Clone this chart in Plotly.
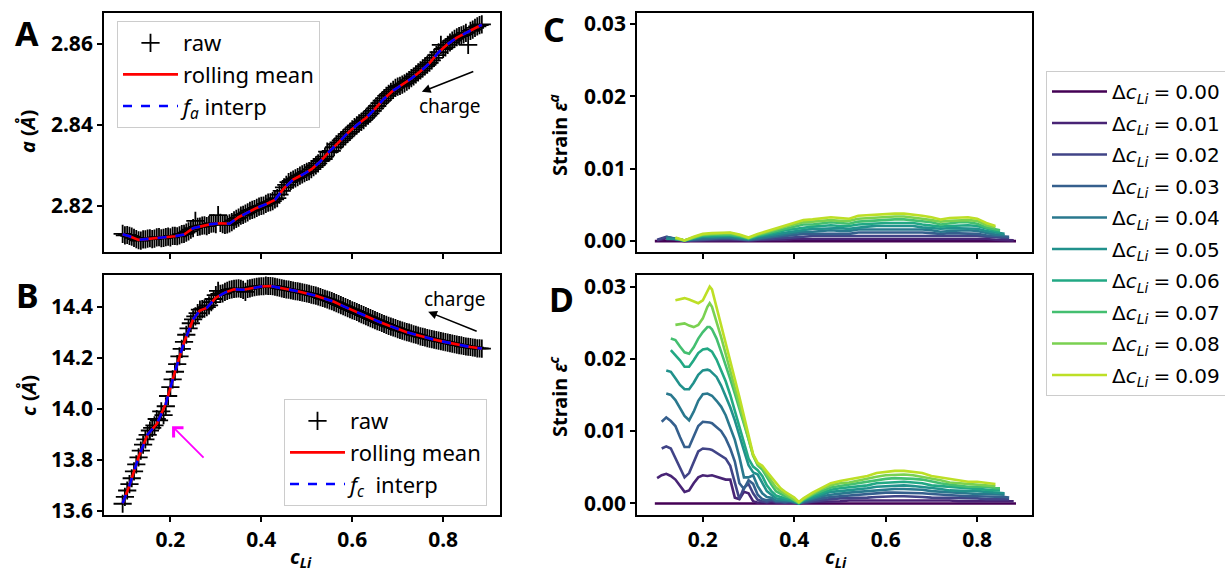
import plotly.graph_objects as go

# ---------------- panels A / B : lattice parameters ----------------
raw_cli = [0.095, 0.105, 0.115, 0.125, 0.135, 0.145, 0.155, 0.165, 0.175, 0.185,
           0.195, 0.205, 0.215, 0.225, 0.235, 0.245, 0.255, 0.265, 0.275, 0.285,
           0.295, 0.305, 0.315, 0.325, 0.335, 0.345, 0.355, 0.365, 0.375, 0.385,
           0.395, 0.405, 0.415, 0.425, 0.435, 0.445, 0.455, 0.465, 0.475, 0.485,
           0.495, 0.505, 0.515, 0.525, 0.535, 0.545, 0.555, 0.565, 0.575, 0.585,
           0.595, 0.605, 0.615, 0.625, 0.635, 0.645, 0.655, 0.665, 0.675, 0.685,
           0.695, 0.705, 0.715, 0.725, 0.735, 0.745, 0.755, 0.765, 0.775, 0.785,
           0.795, 0.805, 0.815, 0.825, 0.835, 0.845, 0.855, 0.865, 0.875, 0.885]

raw_a = [2.8131, 2.8128, 2.8124, 2.8118, 2.8114, 2.8117, 2.8120, 2.8119, 2.8123, 2.8121,
         2.8124, 2.8126, 2.8125, 2.8130, 2.8134, 2.8141, 2.8163, 2.8149, 2.8152, 2.8153,
         2.8157, 2.8177, 2.8155, 2.8154, 2.8160, 2.8168, 2.8176, 2.8181, 2.8188, 2.8192,
         2.8198, 2.8201, 2.8208, 2.8212, 2.8219, 2.8237, 2.8252, 2.8262, 2.8268, 2.8275,
         2.8281, 2.8286, 2.8296, 2.8305, 2.8316, 2.8334, 2.8336, 2.8352, 2.8362, 2.8372,
         2.8383, 2.8395, 2.8404, 2.8412, 2.8423, 2.8435, 2.8447, 2.8460, 2.8472, 2.8482,
         2.8492, 2.8497, 2.8503, 2.8511, 2.8520, 2.8530, 2.8540, 2.8549, 2.8560, 2.8573,
         2.8598, 2.8592, 2.8604, 2.8613, 2.8620, 2.8624, 2.8598, 2.8636, 2.8644, 2.8649]

raw_c = [13.628, 13.680, 13.728, 13.782, 13.836, 13.880, 13.915, 13.935, 13.955, 13.975,
         14.050, 14.115, 14.175, 14.235, 14.290, 14.335, 14.362, 14.388, 14.392, 14.405,
         14.430, 14.462, 14.452, 14.462, 14.468, 14.471, 14.470, 14.458, 14.472, 14.476,
         14.479, 14.480, 14.481, 14.480, 14.476, 14.472, 14.468, 14.465, 14.461, 14.458,
         14.454, 14.450, 14.445, 14.440, 14.434, 14.428, 14.422, 14.414, 14.406, 14.398,
         14.390, 14.383, 14.375, 14.367, 14.359, 14.351, 14.343, 14.336, 14.329, 14.322,
         14.316, 14.309, 14.303, 14.298, 14.292, 14.287, 14.282, 14.277, 14.273, 14.269,
         14.265, 14.261, 14.257, 14.253, 14.249, 14.246, 14.243, 14.240, 14.237, 14.236]

# second half of the raw measurements (interleaved compositions)
raw_cli2 = [0.100, 0.110, 0.120, 0.130, 0.140, 0.150, 0.160, 0.170, 0.180, 0.190,
            0.200, 0.210, 0.220, 0.230, 0.240, 0.250, 0.260, 0.270, 0.280, 0.290,
            0.300, 0.310, 0.320, 0.330, 0.340, 0.350, 0.360, 0.370, 0.380, 0.390,
            0.400, 0.410, 0.420, 0.430, 0.440, 0.450, 0.460, 0.470, 0.480, 0.490,
            0.500, 0.510, 0.520, 0.530, 0.540, 0.550, 0.560, 0.570, 0.580, 0.590,
            0.600, 0.610, 0.620, 0.630, 0.640, 0.650, 0.660, 0.670, 0.680, 0.690,
            0.700, 0.710, 0.720, 0.730, 0.740, 0.750, 0.760, 0.770, 0.780, 0.790,
            0.800, 0.810, 0.820, 0.830, 0.840, 0.850, 0.860, 0.870, 0.880]

raw_a2 = [2.8127, 2.8126, 2.8121, 2.8115, 2.8117, 2.8119, 2.8118, 2.8122, 2.8120, 2.8123,
          2.8122, 2.8126, 2.8127, 2.8131, 2.8137, 2.8145, 2.8148, 2.8151, 2.8150, 2.8156,
          2.8155, 2.8158, 2.8153, 2.8157, 2.8164, 2.8171, 2.8178, 2.8184, 2.8190, 2.8195,
          2.8200, 2.8205, 2.8209, 2.8216, 2.8228, 2.8246, 2.8259, 2.8265, 2.8271, 2.8278,
          2.8284, 2.8291, 2.8300, 2.8311, 2.8322, 2.8333, 2.8345, 2.8357, 2.8367, 2.8378,
          2.8389, 2.8399, 2.8408, 2.8418, 2.8429, 2.8441, 2.8454, 2.8466, 2.8477, 2.8487,
          2.8495, 2.8500, 2.8507, 2.8516, 2.8525, 2.8535, 2.8545, 2.8554, 2.8566, 2.8580,
          2.8588, 2.8598, 2.8609, 2.8617, 2.8622, 2.8628, 2.8633, 2.8640, 2.8647]

raw_c2 = [13.655, 13.705, 13.755, 13.810, 13.860, 13.898, 13.925, 13.960, 13.990, 14.010,
          14.085, 14.145, 14.205, 14.262, 14.315, 14.350, 14.375, 14.390, 14.398, 14.418,
          14.445, 14.450, 14.458, 14.466, 14.470, 14.472, 14.466, 14.470, 14.474, 14.478,
          14.480, 14.482, 14.481, 14.478, 14.474, 14.470, 14.467, 14.463, 14.460, 14.456,
          14.452, 14.447, 14.443, 14.437, 14.431, 14.425, 14.418, 14.410, 14.402, 14.394,
          14.386, 14.379, 14.371, 14.363, 14.355, 14.347, 14.340, 14.332, 14.325, 14.319,
          14.312, 14.306, 14.300, 14.295, 14.290, 14.284, 14.280, 14.275, 14.271, 14.267,
          14.263, 14.259, 14.255, 14.251, 14.248, 14.244, 14.242, 14.239, 14.237]

line_cli_a = [0.095, 0.11, 0.13, 0.15, 0.17, 0.19, 0.21, 0.23, 0.25, 0.27, 0.29, 0.31,
              0.33, 0.35, 0.37, 0.39, 0.41, 0.43, 0.45, 0.47, 0.49, 0.51, 0.53, 0.55,
              0.57, 0.59, 0.61, 0.63, 0.65, 0.67, 0.69, 0.71, 0.73, 0.75, 0.77, 0.79,
              0.81, 0.83, 0.85, 0.87, 0.885]
line_a = [2.8130, 2.8125, 2.8116, 2.8118, 2.8121, 2.8122, 2.8125, 2.8129, 2.8145, 2.8150,
          2.8155, 2.8157, 2.8156, 2.8172, 2.8184, 2.8195, 2.8204, 2.8215, 2.8244, 2.8265,
          2.8277, 2.8290, 2.8310, 2.8335, 2.8357, 2.8380, 2.8400, 2.8417, 2.8440, 2.8465,
          2.8485, 2.8499, 2.8515, 2.8533, 2.8553, 2.8580, 2.8600, 2.8616, 2.8627, 2.8640,
          2.8648]

line_cli_c = [0.095, 0.11, 0.13, 0.15, 0.17, 0.19, 0.21, 0.23, 0.25, 0.265, 0.28, 0.30,
              0.32, 0.34, 0.36, 0.38, 0.40, 0.42, 0.44, 0.46, 0.48, 0.50, 0.52, 0.54,
              0.56, 0.58, 0.60, 0.62, 0.64, 0.66, 0.68, 0.70, 0.72, 0.74, 0.76, 0.78,
              0.80, 0.82, 0.84, 0.86, 0.885]
line_c = [13.630, 13.700, 13.810, 13.900, 13.940, 14.020, 14.145, 14.260, 14.350, 14.385,
          14.395, 14.435, 14.455, 14.468, 14.466, 14.474, 14.479, 14.481, 14.475, 14.467,
          14.460, 14.452, 14.443, 14.431, 14.419, 14.402, 14.386, 14.371, 14.355, 14.340,
          14.326, 14.312, 14.300, 14.290, 14.280, 14.271, 14.263, 14.255, 14.248, 14.242,
          14.236]

# ---------------- panels C / D : strain ----------------
delta_labels = ["0.00", "0.01", "0.02", "0.03", "0.04", "0.05", "0.06", "0.07", "0.08", "0.09"]
viridis10 = ["#440154", "#482475", "#414487", "#355f8d", "#2a788e",
             "#21918c", "#22a884", "#44bf70", "#7ad151", "#bddf26"]

zero_cli = [0.095, 0.885]
zero_strain = [0.0, 0.0]

grid_a = [0.10, 0.12, 0.14, 0.16, 0.18, 0.20, 0.22, 0.24, 0.26, 0.28, 0.30, 0.32, 0.34,
          0.36, 0.38, 0.40, 0.42, 0.44, 0.46, 0.48, 0.50, 0.52, 0.54, 0.56, 0.58, 0.60,
          0.62, 0.64, 0.66, 0.68, 0.70, 0.72, 0.74, 0.76, 0.78, 0.80, 0.82, 0.84,
          0.85, 0.86, 0.87, 0.88]

eps_a_01 = [.0001, .0004, .0002, .0000, .0001, .0001, .0001, .0001, .0001, .0001, .0001,
            .0001, .0002, .0002, .0002, .0003, .0003, .0003, .0003, .0004, .0004, .0003,
            .0004, .0004, .0004, .0004, .0004, .0004, .0004, .0004, .0004, .0003, .0004,
            .0004, .0004, .0003, .0003, .0002, .0002, .0002, .0002, .0001]
eps_a_02 = [.0002, .0006, .0003, .0001, .0001, .0002, .0002, .0003, .0003, .0002, .0001,
            .0002, .0003, .0004, .0005, .0006, .0006, .0007, .0007, .0007, .0007, .0007,
            .0008, .0008, .0008, .0008, .0008, .0008, .0008, .0008, .0007, .0007, .0007,
            .0007, .0007, .0007, .0006, .0005, .0005, .0004, .0004, None]
eps_a_03 = [None, .0006, .0003, .0001, .0002, .0003, .0004, .0004, .0004, .0003, .0002,
            .0003, .0005, .0006, .0007, .0009, .0010, .0010, .0010, .0011, .0011, .0010,
            .0012, .0012, .0012, .0012, .0013, .0013, .0012, .0012, .0011, .0010, .0011,
            .0011, .0011, .0010, .0008, .0007, .0007, .0006, .0006, None]
eps_a_04 = [None, .0005, .0003, .0001, .0003, .0004, .0005, .0005, .0005, .0004, .0002,
            .0004, .0006, .0008, .0010, .0012, .0013, .0013, .0014, .0015, .0014, .0014,
            .0016, .0016, .0016, .0016, .0017, .0017, .0016, .0016, .0015, .0013, .0014,
            .0015, .0015, .0014, .0011, .0009, .0009, .0008, None, None]
eps_a_05 = [None, .0003, .0003, .0001, .0003, .0006, .0006, .0007, .0007, .0005, .0003,
            .0006, .0008, .0010, .0012, .0014, .0016, .0017, .0017, .0018, .0018, .0017,
            .0019, .0020, .0021, .0021, .0021, .0021, .0021, .0019, .0018, .0017, .0018,
            .0018, .0018, .0017, .0014, .0012, .0011, .0010, None, None]
eps_a_06 = [None, None, .0003, .0001, .0004, .0007, .0007, .0008, .0008, .0006, .0003,
            .0007, .0009, .0012, .0015, .0017, .0019, .0020, .0021, .0022, .0021, .0021,
            .0023, .0024, .0025, .0025, .0025, .0025, .0025, .0023, .0022, .0020, .0021,
            .0022, .0022, .0021, .0017, .0014, .0013, None, None, None]
eps_a_07 = [None, None, .0004, .0001, .0005, .0008, .0009, .0009, .0009, .0007, .0004,
            .0008, .0011, .0014, .0017, .0020, .0023, .0023, .0024, .0026, .0025, .0024,
            .0027, .0028, .0029, .0029, .0030, .0030, .0029, .0027, .0026, .0023, .0025,
            .0026, .0026, .0024, .0019, .0016, .0015, None, None, None]
eps_a_08 = [None, None, .0004, .0001, .0005, .0009, .0010, .0011, .0011, .0008, .0004,
            .0009, .0012, .0016, .0020, .0023, .0026, .0027, .0028, .0029, .0028, .0028,
            .0031, .0032, .0033, .0033, .0034, .0034, .0033, .0031, .0029, .0027, .0028,
            .0029, .0029, .0028, .0022, .0019, None, None, None, None]
eps_a_09 = [None, None, .0005, .0001, .0006, .0010, .0011, .0012, .0012, .0009, .0005,
            .0010, .0014, .0018, .0022, .0026, .0029, .0030, .0031, .0033, .0032, .0031,
            .0035, .0036, .0037, .0037, .0038, .0038, .0037, .0035, .0033, .0030, .0032,
            .0033, .0033, .0031, .0025, .0021, None, None, None, None]

grid_c = [0.10, 0.11, 0.12, 0.13, 0.14, 0.15, 0.16, 0.17, 0.18, 0.19, 0.20, 0.21, 0.215,
          0.22, 0.23, 0.24, 0.25, 0.26, 0.27, 0.28, 0.29, 0.30, 0.31, 0.32, 0.33, 0.34,
          0.35, 0.36, 0.37, 0.38, 0.39, 0.40, 0.41, 0.42,
          0.44, 0.46, 0.48, 0.50, 0.52, 0.54, 0.56, 0.58, 0.60, 0.62, 0.64, 0.66, 0.68,
          0.70, 0.72, 0.74, 0.76, 0.78, 0.80, 0.82, 0.84, 0.85, 0.86, 0.87, 0.88]

eps_c_01 = [.0035, .0039, .0041, .0038, .0033, .0025, .0016, .0018, .0028, .0036, .0039,
            .0038, .0038, .0039, .0037, .0035, .0033, .0033, .0008, .0006, .0016, .0014,
            .0003, .0001, .0002, .0001, .0002, .0001, .0001, .0001, .0001, .0001, .0000,
            .0001,
            .0002, .0002, .0003, .0003, .0004, .0004, .0004, .0005, .0005, .0005, .0005,
            .0005, .0005, .0004, .0004, .0004, .0003, .0003, .0003, .0003, .0003, .0003,
            .0003, .0003, .0003]
eps_c_02 = [None, .0076, .0079, .0076, .0062, .0049, .0036, .0042, .0058, .0072, .0076,
            .0076, .0075, .0074, .0070, .0066, .0062, .0052, .0030, .0006, .0022, .0027,
            .0014, .0005, .0003, .0002, .0004, .0002, .0002, .0001, .0002, .0001, .0000,
            .0001,
            .0003, .0005, .0006, .0007, .0007, .0008, .0008, .0009, .0010, .0010, .0010,
            .0010, .0009, .0008, .0008, .0007, .0007, .0007, .0007, .0006, .0006, .0006,
            .0006, .0006, None]
eps_c_03 = [None, .0113, .0119, .0114, .0107, .0092, .0078, .0078, .0092, .0107, .0113,
            .0113, .0112, .0111, .0106, .0100, .0090, .0076, .0058, .0028, .0020, .0032,
            .0027, .0012, .0006, .0004, .0006, .0003, .0003, .0002, .0003, .0002, .0000,
            .0002,
            .0005, .0007, .0009, .0010, .0011, .0012, .0013, .0014, .0015, .0015, .0015,
            .0015, .0014, .0013, .0012, .0011, .0010, .0010, .0010, .0010, .0009, .0009,
            .0009, .0008, None]
eps_c_04 = [None, None, .0152, .0150, .0143, .0131, .0121, .0115, .0127, .0142, .0151,
            .0152, .0151, .0149, .0142, .0134, .0122, .0106, .0088, .0064, .0036, .0036,
            .0039, .0024, .0014, .0009, .0008, .0004, .0004, .0003, .0004, .0002, .0000,
            .0003,
            .0007, .0010, .0012, .0014, .0015, .0016, .0017, .0019, .0020, .0020, .0020,
            .0020, .0019, .0017, .0016, .0015, .0014, .0013, .0013, .0013, .0012, .0012,
            .0012, None, None]
eps_c_05 = [None, None, .0184, .0182, .0173, .0164, .0158, .0158, .0167, .0178, .0184,
            .0185, .0184, .0181, .0175, .0163, .0149, .0133, .0115, .0093, .0073, .0053,
            .0043, .0040, .0028, .0017, .0012, .0007, .0006, .0005, .0005, .0003, .0000,
            .0004,
            .0008, .0012, .0016, .0017, .0018, .0020, .0021, .0023, .0024, .0025, .0025,
            .0024, .0023, .0021, .0020, .0018, .0017, .0017, .0017, .0016, .0015, .0015,
            .0014, None, None]
eps_c_06 = [None, None, None, .0212, .0205, .0198, .0189, .0189, .0198, .0208, .0213,
            .0214, .0212, .0210, .0199, .0185, .0169, .0150, .0128, .0106, .0083, .0062,
            .0051, .0046, .0038, .0025, .0017, .0011, .0009, .0007, .0006, .0004, .0000,
            .0005,
            .0010, .0015, .0019, .0021, .0022, .0024, .0025, .0028, .0029, .0030, .0030,
            .0029, .0028, .0025, .0024, .0022, .0021, .0020, .0020, .0019, .0018, .0018,
            None, None, None]
eps_c_07 = [None, None, None, .0228, .0226, .0217, .0209, .0207, .0216, .0228, .0237,
            .0244, .0244, .0241, .0228, .0210, .0192, .0172, .0152, .0132, .0110, .0089,
            .0067, .0053, .0047, .0036, .0026, .0017, .0013, .0010, .0008, .0005, .0001,
            .0005,
            .0012, .0017, .0022, .0024, .0026, .0028, .0030, .0033, .0034, .0035, .0035,
            .0034, .0033, .0030, .0028, .0026, .0024, .0023, .0023, .0023, .0021, .0021,
            None, None, None]
eps_c_08 = [None, None, None, None, .0247, .0248, .0249, .0246, .0244, .0247, .0256,
            .0272, .0277, .0272, .0252, .0230, .0207, .0183, .0160, .0136, .0113, .0090,
            .0066, .0054, .0050, .0040, .0031, .0022, .0017, .0013, .0010, .0006, .0001,
            .0006,
            .0013, .0020, .0025, .0028, .0029, .0032, .0034, .0037, .0039, .0040, .0040,
            .0039, .0037, .0034, .0032, .0029, .0028, .0027, .0027, .0026, .0024, None,
            None, None, None]
eps_c_09 = [None, None, None, None, .0281, .0282, .0284, .0282, .0279, .0277, .0281,
            .0294, .0300, .0296, .0272, .0247, .0222, .0197, .0172, .0147, .0120, .0094,
            .0068, .0056, .0052, .0044, .0036, .0028, .0021, .0016, .0012, .0008, .0002,
            .0007,
            .0015, .0022, .0028, .0031, .0033, .0036, .0038, .0042, .0044, .0045, .0045,
            .0044, .0042, .0038, .0036, .0033, .0031, .0030, .0030, .0029, .0027, None,
            None, None, None]

x_ticks = [0.2, 0.4, 0.6, 0.8]
a_ticks = [2.82, 2.84, 2.86]
c_ticks = [13.6, 13.8, 14.0, 14.2, 14.4]
eps_ticks = [0.0, 0.01, 0.02, 0.03]

# ---------------- figure ----------------
SANS = "Noto Sans"
MATH = "DejaVu Sans"
fig = go.Figure()

raw_marker = dict(symbol="cross-thin", size=13, color="black",
                  line=dict(width=1.8, color="black"))

all_raw_cli = raw_cli + raw_cli2
all_raw_a = raw_a + raw_a2
all_raw_c = raw_c + raw_c2

# Panel A
fig.add_trace(go.Scatter(x=all_raw_cli, y=all_raw_a, mode="markers", marker=raw_marker,
                         name="raw", legend="legend2", legendgroup="a1",
                         xaxis="x", yaxis="y"))
fig.add_trace(go.Scatter(x=line_cli_a, y=line_a, mode="lines",
                         line=dict(color="#ff0000", width=2.6),
                         name="rolling mean", legend="legend2", legendgroup="a2",
                         xaxis="x", yaxis="y"))
fig.add_trace(go.Scatter(x=line_cli_a, y=line_a, mode="lines",
                         line=dict(color="#0000ff", width=2.6, dash="dash"),
                         name="<i>f</i><sub><i>a</i></sub> interp", legend="legend2",
                         legendgroup="a3", xaxis="x", yaxis="y"))
# Panel B
fig.add_trace(go.Scatter(x=all_raw_cli, y=all_raw_c, mode="markers", marker=raw_marker,
                         name="raw", legend="legend3", legendgroup="b1",
                         xaxis="x2", yaxis="y2"))
fig.add_trace(go.Scatter(x=line_cli_c, y=line_c, mode="lines",
                         line=dict(color="#ff0000", width=2.6),
                         name="rolling mean", legend="legend3", legendgroup="b2",
                         xaxis="x2", yaxis="y2"))
fig.add_trace(go.Scatter(x=line_cli_c, y=line_c, mode="lines",
                         line=dict(color="#0000ff", width=2.6, dash="dash"),
                         name="<i>f</i><sub><i>c</i></sub>\u00a0 interp", legend="legend3",
                         legendgroup="b3", xaxis="x2", yaxis="y2"))

eps_a_series = [zero_strain, eps_a_01, eps_a_02, eps_a_03, eps_a_04,
                eps_a_05, eps_a_06, eps_a_07, eps_a_08, eps_a_09]
eps_c_series = [zero_strain, eps_c_01, eps_c_02, eps_c_03, eps_c_04,
                eps_c_05, eps_c_06, eps_c_07, eps_c_08, eps_c_09]

for k in range(10):
    xa = zero_cli if k == 0 else grid_a
    fig.add_trace(go.Scatter(x=xa, y=eps_a_series[k], mode="lines",
                             line=dict(color=viridis10[k], width=2.6),
                             showlegend=False, xaxis="x3", yaxis="y3"))
for k in range(10):
    xc = zero_cli if k == 0 else grid_c
    fig.add_trace(go.Scatter(x=xc, y=eps_c_series[k], mode="lines",
                             line=dict(color=viridis10[k], width=2.6),
                             name="Δ<i>c</i><sub><i>Li</i></sub>\u2005=\u2005" + delta_labels[k],
                             legend="legend", legendgroup="d%d" % k,
                             xaxis="x4", yaxis="y4"))

tickfont = dict(family=SANS, size=21, color="black", weight="bold")
axis_common = dict(showline=True, linecolor="black", linewidth=1.8, mirror=True,
                   ticks="outside", ticklen=5, tickwidth=1.8, tickcolor="black",
                   showgrid=False, zeroline=False, tickfont=tickfont, automargin=False)

dom_left = [104 / 1225, 500 / 1225]
dom_right = [637 / 1225, 1032 / 1225]
dom_top = [1 - 252 / 575, 1 - 13 / 575]
dom_bot = [1 - 515 / 575, 1 - 275 / 575]

fig.update_layout(
    xaxis=dict(axis_common, domain=dom_left, range=[0.054, 0.925], tickvals=x_ticks,
               showticklabels=False, anchor="y"),
    yaxis=dict(axis_common, domain=dom_top, range=[2.8086, 2.8677], tickvals=a_ticks,
               tickformat=".2f", anchor="x"),
    xaxis2=dict(axis_common, domain=dom_left, range=[0.054, 0.925], tickvals=x_ticks,
                tickformat=".1f", anchor="y2"),
    yaxis2=dict(axis_common, domain=dom_bot, range=[13.584, 14.524], tickvals=c_ticks,
                tickformat=".1f", anchor="x2"),
    xaxis3=dict(axis_common, domain=dom_right, range=[0.056, 0.92], tickvals=x_ticks,
                showticklabels=False, anchor="y3"),
    yaxis3=dict(axis_common, domain=dom_top, range=[-0.0015, 0.0315], tickvals=eps_ticks,
                tickformat=".2f", anchor="x3"),
    xaxis4=dict(axis_common, domain=dom_right, range=[0.056, 0.92], tickvals=x_ticks,
                tickformat=".1f", anchor="y4"),
    yaxis4=dict(axis_common, domain=dom_bot, range=[-0.0016, 0.0316], tickvals=eps_ticks,
                tickformat=".2f", anchor="x4"),
)

legend_common = dict(bgcolor="white", bordercolor="#cccccc", borderwidth=1,
                     xanchor="left", yanchor="top", tracegroupgap=0, itemwidth=55,
                     traceorder="normal")
fig.update_layout(
    legend=dict(legend_common, x=1046 / 1225, y=1 - 71 / 575, itemwidth=55,
                tracegroupgap=2.5, traceorder="grouped",
                font=dict(family=MATH, size=20, color="black")),
    legend2=dict(legend_common, x=117 / 1225, y=1 - 21 / 575,
                 font=dict(family=SANS, size=22, color="black")),
    legend3=dict(legend_common, x=284 / 1225, y=1 - 399 / 575,
                 font=dict(family=SANS, size=22, color="black")),
)

ann = []
def label(text, x, y, size, angle=0, bold=True, family=SANS):
    ann.append(dict(text=text, x=x, y=y, xref="paper", yref="paper",
                    xanchor="center", yanchor="middle", showarrow=False,
                    textangle=angle,
                    font=dict(family=family, size=size, color="black",
                              weight="bold" if bold else "normal")))

label("A", 27 / 1225, 1 - 33 / 575, 34)
label("B", 27.5 / 1225, 1 - 295 / 575, 34)
label("C", 554 / 1225, 1 - 29 / 575, 34)
label("D", 561 / 1225, 1 - 299 / 575, 34)
label("<i>a</i> (<i>Å</i>)", 28 / 1225, 1 - 132 / 575, 20, angle=-90)
label("<i>c</i> (<i>Å</i>)", 28 / 1225, 1 - 396 / 575, 20, angle=-90)
label("Strain <i>ε</i><sup><i>a</i></sup>", 558 / 1225, 1 - 135 / 575, 20, angle=-90)
label("Strain <i>ε</i><sup><i>c</i></sup>", 558 / 1225, 1 - 397 / 575, 20, angle=-90)
label("<i>c</i><sub><i>Li</i></sub>", 301 / 1225, 1 - 557 / 575, 20)
label("<i>c</i><sub><i>Li</i></sub>", 836 / 1225, 1 - 557 / 575, 20)

# "charge" texts and arrows
ann.append(dict(text="charge", x=0.815, y=2.8447, xref="x", yref="y", showarrow=False,
                font=dict(family=SANS, size=19, color="black")))
ann.append(dict(text="", x=0.753, y=2.8482, xref="x", yref="y", showarrow=True,
                ax=53, ay=-21, arrowhead=2, arrowsize=1.1, arrowwidth=1.6,
                arrowcolor="black", standoff=0))
ann.append(dict(text="charge", x=0.826, y=14.430, xref="x2", yref="y2", showarrow=False,
                font=dict(family=SANS, size=19, color="black")))
ann.append(dict(text="", x=0.767, y=14.380, xref="x2", yref="y2", showarrow=True,
                ax=50, ay=20, arrowhead=2, arrowsize=1.1, arrowwidth=1.6,
                arrowcolor="black", standoff=0))
ann.append(dict(text="", x=0.2037, y=13.932, xref="x2", yref="y2", showarrow=True,
                ax=33, ay=33, arrowhead=4, arrowsize=1.5, arrowwidth=1.8,
                arrowcolor="#ff00ff", standoff=0))

fig.update_layout(annotations=ann, width=1225, height=575, autosize=False,
                  margin=dict(l=0, r=0, t=0, b=0, autoexpand=False),
                  paper_bgcolor="white", plot_bgcolor="white", template="none",
                  font=dict(family=SANS, color="black"))

fig.write_html("out.html", config={"displayModeBar": False},
               post_script="document.body.style.margin='0';")
